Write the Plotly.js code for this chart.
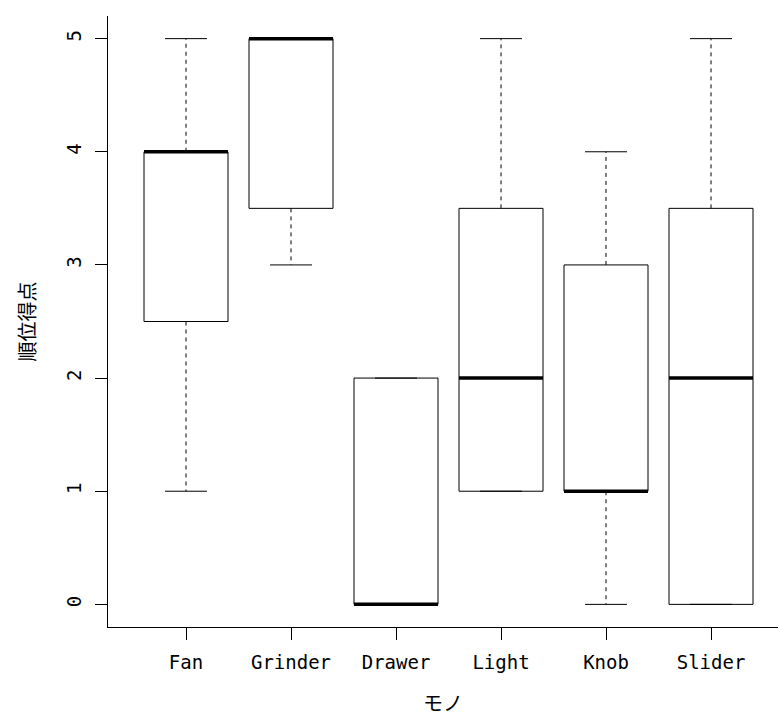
<!DOCTYPE html>
<html>
<head>
<meta charset="utf-8">
<script src="https://cdn.plot.ly/plotly-3.0.1.min.js"></script>
<style>html,body{margin:0;padding:0;background:#fff;}#chart{width:778px;height:717px;}</style>
</head>
<body>
<div id="chart"></div>
<script>
const categories = ['Fan', 'Grinder', 'Drawer', 'Light', 'Knob', 'Slider'];
const lowerWhisker = [1, 3, 0, 1, 0, 0];
const q1 = [2.5, 3.5, 0, 1, 1, 0];
const median = [4, 5, 0, 2, 1, 2];
const q3 = [4, 5, 2, 3.5, 3, 3.5];
const upperWhisker = [5, 5, 2, 5, 4, 5];
const yTicks = [0, 1, 2, 3, 4, 5];

const boxHalf = 0.4, capHalf = 0.2;
const pos = categories.map((c, i) => i + 1);

const boxX = [], boxY = [], medX = [], medY = [], whX = [], whY = [], capX = [], capY = [];
pos.forEach((p, i) => {
  boxX.push(p - boxHalf, p + boxHalf, p + boxHalf, p - boxHalf, p - boxHalf, null);
  boxY.push(q1[i], q1[i], q3[i], q3[i], q1[i], null);
  medX.push(p - boxHalf, p + boxHalf, null);
  medY.push(median[i], median[i], null);
  whX.push(p, p, null, p, p, null);
  whY.push(q3[i], upperWhisker[i], null, q1[i], lowerWhisker[i], null);
  capX.push(p - capHalf, p + capHalf, null, p - capHalf, p + capHalf, null);
  capY.push(upperWhisker[i], upperWhisker[i], null, lowerWhisker[i], lowerWhisker[i], null);
});

const traces = [
  {x: whX, y: whY, mode: 'lines', line: {color: '#000', width: 1, dash: '4px,4px'}, hoverinfo: 'skip', showlegend: false},
  {x: capX, y: capY, mode: 'lines', line: {color: '#000', width: 1}, hoverinfo: 'skip', showlegend: false},
  {x: boxX, y: boxY, mode: 'lines', line: {color: '#000', width: 1}, hoverinfo: 'skip', showlegend: false},
  {x: medX, y: medY, mode: 'lines', line: {color: '#000', width: 3.5}, hoverinfo: 'skip', showlegend: false}
];

const tickFont = {family: 'DejaVu Sans Mono, Noto Sans CJK JP, monospace', size: 19, color: '#000'};
const layout = {
  width: 778, height: 717,
  margin: {l: 108, r: 0, t: 16, b: 90, pad: 0},
  paper_bgcolor: '#fff', plot_bgcolor: '#fff',
  showlegend: false,
  xaxis: {
    range: [0.257, 6.638], tickmode: 'array', tickvals: pos, ticktext: categories,
    ticks: 'outside', ticklen: 12, tickcolor: '#000', tickwidth: 1,
    showgrid: false, zeroline: false, showline: true, linecolor: '#000', linewidth: 1,
    tickfont: tickFont, automargin: false, ticklabelstandoff: 6,
    title: {text: 'モノ', font: {family: 'Noto Sans CJK JP, sans-serif', size: 20, color: '#000'}, standoff: 33}
  },
  yaxis: {
    range: [-0.2, 5.2], tickmode: 'array', tickvals: yTicks, ticktext: yTicks.map(String),
    ticks: 'outside', ticklen: 12, tickcolor: '#000', tickwidth: 1, tickangle: -90,
    showgrid: false, zeroline: false, showline: true, linecolor: '#000', linewidth: 1,
    tickfont: tickFont, automargin: false, ticklabelstandoff: 6,
    title: {text: '順位得点', font: {family: 'Noto Sans CJK JP, sans-serif', size: 20, color: '#000'}, standoff: 22}
  }
};

Plotly.newPlot('chart', traces, layout, {staticPlot: true, displayModeBar: false});
</script>
</body>
</html>
